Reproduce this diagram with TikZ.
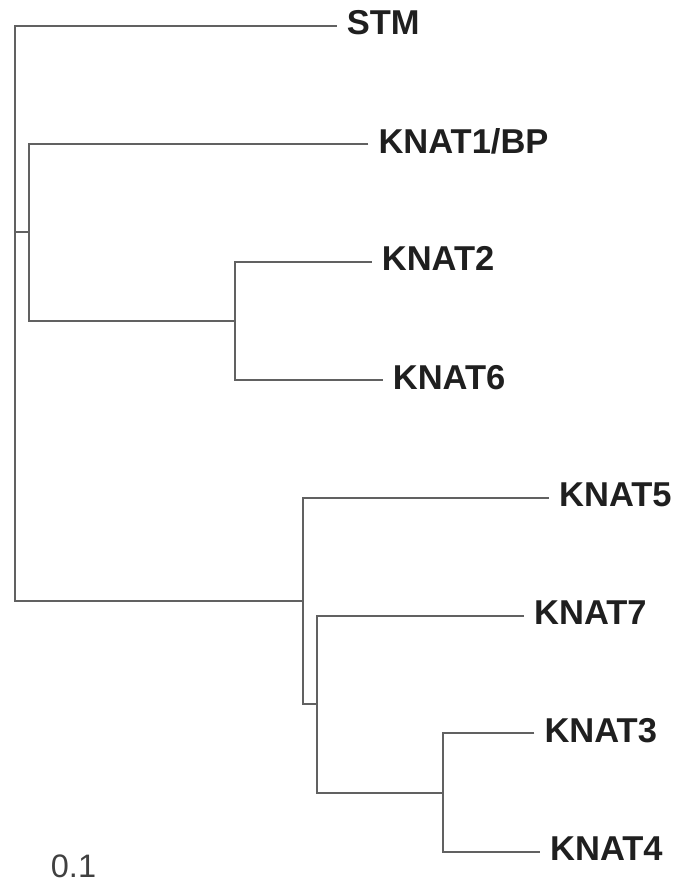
\documentclass[tikz,border=0pt]{standalone}
\usepackage{fontspec}
\setmainfont{Liberation Sans}
\begin{document}
\begin{tikzpicture}[x=1pt,y=-1pt,
  branch/.style={draw=black!62, line width=2pt},
  leaf/.style={anchor=base west, inner sep=0pt, font=\fontsize{34.5}{34.5}\selectfont\bfseries, text=black!88},
  scalelbl/.style={anchor=base west, inner sep=0pt, font=\fontsize{32.5}{32.5}\selectfont, text=black!75}]
\useasboundingbox (0,0) rectangle (675,888);

% internal nodes of the tree
\coordinate (root) at (14.5,232);
\coordinate (rootlow) at (14.5,601);
\coordinate (n1) at (28.7,232);
\coordinate (n26) at (235,321);
\coordinate (n5) at (302.5,601);
\coordinate (n7) at (317,704);
\coordinate (n34) at (443.3,792.5);

% leaf tips
\coordinate (tSTM) at (336.7,25.7);
\coordinate (tK1) at (368.3,144);
\coordinate (tK2) at (371.7,261.7);
\coordinate (tK6) at (382.7,380);
\coordinate (tK5) at (549,497.7);
\coordinate (tK7) at (524,615.7);
\coordinate (tK3) at (534.3,733.3);
\coordinate (tK4) at (540,851.7);

% labels
\node[leaf] (lSTM) at ([xshift=10pt,yshift=-9pt]tSTM) {STM};
\node[leaf] (lK1) at ([xshift=10pt,yshift=-9pt]tK1) {KNAT1/BP};
\node[leaf] (lK2) at ([xshift=10pt,yshift=-9pt]tK2) {KNAT2};
\node[leaf] (lK6) at ([xshift=10pt,yshift=-9pt]tK6) {KNAT6};
\node[leaf] (lK5) at ([xshift=10pt,yshift=-9pt]tK5) {KNAT5};
\node[leaf] (lK7) at ([xshift=10pt,yshift=-9pt]tK7) {KNAT7};
\node[leaf] (lK3) at ([xshift=10pt,yshift=-9pt]tK3) {KNAT3};
\node[leaf] (lK4) at ([xshift=10pt,yshift=-9pt]tK4) {KNAT4};
\node[scalelbl] (scale) at (50.7,877.5) {0.1};

% root: STM on top, the rest below
\draw[branch] (tSTM) -| (rootlow) -- (n5);
\draw[branch] (root) -- (n1);
% KNAT1/BP clade
\draw[branch] (tK1) -| (n1) |- (n26);
\draw[branch] (tK2) -| (n26) |- (tK6);
% KNAT5 clade
\draw[branch] (tK5) -| (n5) |- (n7);
\draw[branch] (tK7) -| (n7) |- (n34);
\draw[branch] (tK3) -| (n34) |- (tK4);
\end{tikzpicture}
\end{document}
